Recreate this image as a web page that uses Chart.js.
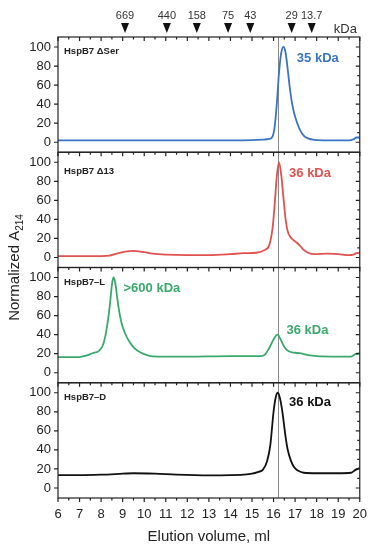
<!DOCTYPE html>
<html>
<head>
<meta charset="utf-8">
<script src="https://cdn.jsdelivr.net/npm/chart.js@4/dist/chart.umd.min.js"></script>
<style>
html,body{margin:0;padding:0;background:#fff;}
canvas{display:block;}
</style>
</head>
<body>
<canvas id="c" width="376" height="550"></canvas>
<script>
// ---------- data ----------
const xTickValues = [6,7,8,9,10,11,12,13,14,15,16,17,18,19,20];
const yTickValues = [0,20,40,60,80,100];

const markerVolumes = [9.11, 11.05, 12.44, 13.89, 14.92, 16.84, 17.77];
const markerLabels  = ['669','440','158','75','43','29','13.7'];
const referenceLineVolume = 16.22;

const panelNames = ['HspB7 \u0394Ser','HspB7 \u039413','HspB7\u2013L','HspB7\u2013D'];

const deltaSerVolume = [6,8,10,12,14,15,15.5,15.8,15.95,16.05,16.15,16.25,16.35,16.46,16.55,16.65,16.75,16.85,16.95,17.1,17.25,17.4,17.6,17.9,18.5,19.5,19.7,19.85,20];
const deltaSerA214   = [2,2,2,2,2,2.3,2.8,3.5,6,16,40,72,93,100,95,78,58,42,31,20,12,7,4,2.5,2,2,3,5,5];

const delta13Volume = [6,7,8,8.4,8.8,9.2,9.5,9.9,10.4,11,12,13,14,14.6,15.2,15.6,15.8,15.95,16.05,16.15,16.25,16.35,16.45,16.55,16.65,16.8,17.0,17.2,17.4,17.6,17.9,18.5,19,19.5,19.7,19.85,20];
const delta13A214   = [1.5,1.5,1.5,2,4.5,6.5,7,6,4,3,2.5,2.5,3.5,4.5,5,8,13,30,55,85,100,88,65,42,28,21,17,13,8,5,3.5,4,3.5,2.5,3,4.5,5];

const hspLVolume = [6,7,7.3,7.6,7.9,8.1,8.25,8.4,8.5,8.57,8.65,8.8,8.95,9.1,9.3,9.5,9.7,10.0,10.3,10.8,12,14,15.4,15.6,15.8,16.0,16.18,16.35,16.5,16.7,17.0,17.2,17.6,18,19,19.6,19.8,20];
const hspLA214   = [16.5,16.5,18,20.5,23,30,45,70,92,100,95,70,52,42,33,27,23,19.5,17.5,17,17,17.5,17.5,19,26,35,40,34,27,22.5,21,20.5,18.5,17.5,17,17,19.5,20.5];

const hspDVolume = [6,7,8,9,9.5,10.5,11.5,13,14,14.6,15,15.3,15.5,15.7,15.85,16.0,16.1,16.2,16.3,16.41,16.55,16.65,16.8,16.95,17.15,17.4,18,19,19.6,19.8,20];
const hspDA214   = [13.5,13.5,14,15,15.5,15,14,13.3,13.5,14,15,17,19,28,45,80,95,100,94,80,55,41,29,22,18,16,15.5,15.5,16,19,21];

// ---------- styles / annotation placement ----------
const FONT = "'Liberation Sans', Arial, sans-serif";
const seriesColors = ['#3b74c4','#e0514f','#3aa96c','#111111'];
const sizeNotes = [
  [{text:'35 kDa', x:17.08, y:88}],
  [{text:'36 kDa', x:16.72, y:88.6}],
  [{text:'>600 kDa', x:9.04, y:88.7},{text:'36 kDa', x:16.6, y:44.4}],
  [{text:'36 kDa', x:16.72, y:89.5}]
];

function pts(xs, ys){ return xs.map((v,i)=>({x:v, y:ys[i]})); }

const seriesData = [
  pts(deltaSerVolume, deltaSerA214),
  pts(delta13Volume, delta13A214),
  pts(hspLVolume, hspLA214),
  pts(hspDVolume, hspDA214)
];
const axisIds = ['y1','y2','y3','y4'];

const datasets = seriesData.map((d,i)=>({
  label: panelNames[i],
  data: d,
  yAxisID: axisIds[i],
  borderColor: seriesColors[i],
  borderWidth: 1.8,
  pointRadius: 0,
  fill: false,
  cubicInterpolationMode: 'monotone'
}));

function yScale(id){
  return {
    type:'linear', position:'left', stack:'panels', stackWeight:1,
    min:-10.5, max:110.5,
    afterBuildTicks: s => { s.ticks = yTickValues.map(v=>({value:v})); },
    afterFit: s => { s.width = 58; },
    grid:{display:false, drawTicks:false},
    border:{display:false},
    ticks:{padding:7, color:'#222', font:{family:FONT, size:13}, autoSkip:false}
  };
}

const scales = {
  x: {
    type:'linear', position:'bottom', min:6, max:20,
    afterBuildTicks: s => { s.ticks = xTickValues.map(v=>({value:v})); },
    afterFit: s => { s.height = 52; },
    grid:{display:false, drawTicks:false},
    border:{display:false},
    ticks:{padding:9, color:'#222', font:{family:FONT, size:13}, maxRotation:0, autoSkip:false}
  }
};
// define in reverse so the first panel ends up at the top
for (let i = axisIds.length-1; i >= 0; i--) scales[axisIds[i]] = yScale(axisIds[i]);

const framePlugin = {
  id:'frames',
  beforeDatasetsDraw(chart){
    const ctx = chart.ctx, xs = chart.scales.x, a = chart.chartArea;
    const x = xs.getPixelForValue(referenceLineVolume);
    ctx.save();
    ctx.strokeStyle = '#8a8a8a'; ctx.lineWidth = 1;
    ctx.beginPath(); ctx.moveTo(Math.round(x)+0.5, a.top); ctx.lineTo(Math.round(x)+0.5, a.bottom); ctx.stroke();
    ctx.restore();
  },
  afterDraw(chart){
    const ctx = chart.ctx, xs = chart.scales.x, a = chart.chartArea;
    ctx.save();
    ctx.strokeStyle = '#222'; ctx.lineWidth = 1.2;
    const L = xs.left, R = xs.right;
    axisIds.forEach((id, p)=>{
      const ys = chart.scales[id];
      const T = ys.top, B = ys.bottom;
      ctx.strokeRect(L, T, R-L, B-T);
      ctx.beginPath();
      for (let k=0; k<xTickValues.length; k++){
        const v = xTickValues[k];
        const px = xs.getPixelForValue(v);
        ctx.moveTo(px, T); ctx.lineTo(px, T+4);
        if (k < xTickValues.length-1){
          const pm = xs.getPixelForValue((v + xTickValues[k+1])/2);
          ctx.moveTo(pm, T); ctx.lineTo(pm, T+2.5);
        }
      }
      for (let k=0; k<yTickValues.length; k++){
        const v = yTickValues[k];
        const py = ys.getPixelForValue(v);
        ctx.moveTo(L-4, py); ctx.lineTo(L, py);
        ctx.moveTo(R, py); ctx.lineTo(R-4, py);
        if (k < yTickValues.length-1){
          const pm = ys.getPixelForValue((v + yTickValues[k+1])/2);
          ctx.moveTo(R, pm); ctx.lineTo(R-2.5, pm);
        }
      }
      ctx.stroke();

      ctx.fillStyle = '#222';
      ctx.font = 'bold 9.5px ' + FONT;
      ctx.textBaseline = 'middle'; ctx.textAlign = 'left';
      ctx.fillText(panelNames[p], L+6, ys.getPixelForValue(p===1?90.2:95.3));

      ctx.fillStyle = seriesColors[p];
      ctx.font = 'bold 13px ' + FONT;
      sizeNotes[p].forEach(n=>{
        ctx.fillText(n.text, xs.getPixelForValue(n.x), ys.getPixelForValue(n.y));
      });
    });
    const B = a.bottom;
    ctx.beginPath();
    for (let k=0; k<xTickValues.length; k++){
      const v = xTickValues[k];
      const px = xs.getPixelForValue(v);
      ctx.moveTo(px, B); ctx.lineTo(px, B+4);
      if (k < xTickValues.length-1){
        const pm = xs.getPixelForValue((v + xTickValues[k+1])/2);
        ctx.moveTo(pm, B); ctx.lineTo(pm, B+2.5);
      }
    }
    ctx.stroke();

    ctx.fillStyle = '#111';
    markerVolumes.forEach((v,i)=>{
      const px = xs.getPixelForValue(v);
      ctx.beginPath();
      ctx.moveTo(px-4, a.top-14); ctx.lineTo(px+4, a.top-14); ctx.lineTo(px, a.top-4); ctx.closePath();
      ctx.fill();
    });
    ctx.fillStyle = '#333';
    ctx.font = '11px ' + FONT;
    ctx.textAlign = 'center'; ctx.textBaseline = 'middle';
    markerVolumes.forEach((v,i)=>{
      ctx.fillText(markerLabels[i], xs.getPixelForValue(v), a.top-21);
    });
    ctx.font = '13px ' + FONT;
    ctx.textAlign = 'left';
    ctx.fillText('kDa', R-26, a.top-8);

    ctx.fillStyle = '#222';
    ctx.font = '15px ' + FONT;
    ctx.textAlign = 'center'; ctx.textBaseline = 'middle';
    ctx.fillText('Elution volume, ml', (L+R)/2, 537);

    ctx.translate(15, (a.top + a.bottom)/2);
    ctx.rotate(-Math.PI/2);
    const main = 'Normalized A', sub = '214';
    ctx.font = '15px ' + FONT;
    const wMain = ctx.measureText(main).width;
    ctx.font = '10px ' + FONT;
    const wSub = ctx.measureText(sub).width;
    const start = -(wMain + wSub)/2;
    ctx.textAlign = 'left'; ctx.textBaseline = 'middle';
    ctx.font = '15px ' + FONT;
    ctx.fillText(main, start, 0);
    ctx.font = '10px ' + FONT;
    ctx.fillText(sub, start + wMain, 5);
    ctx.restore();
  }
};

new Chart(document.getElementById('c'), {
  type:'line',
  data:{datasets},
  options:{
    responsive:false,
    devicePixelRatio:1,
    animation:false,
    layout:{padding:{left:0, top:37, right:15, bottom:0}},
    plugins:{legend:{display:false}, tooltip:{enabled:false}, title:{display:false}},
    scales
  },
  plugins:[framePlugin]
});
</script>
</body>
</html>
